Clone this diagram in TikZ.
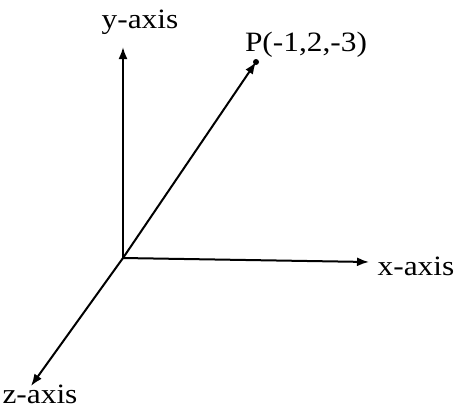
\documentclass[tikz,border=0pt]{standalone}
\usepackage{fontspec}
\setmainfont{Liberation Serif}[FakeStretch=1.12]
\usetikzlibrary{arrows.meta}
\begin{document}
\begin{tikzpicture}[x=1pt,y=1pt,
  axis/.style={line width=2pt,-{Latex[length=12pt,width=9pt]}},
  lbl/.style={font=\fontsize{28}{30}\selectfont,inner sep=0pt}]
\useasboundingbox (0,0) rectangle (458,-408);
\coordinate (O) at (123,-258);
\coordinate (Y) at (123,-47);
\coordinate (X) at (369,-262);
\coordinate (Z) at (31,-386);
\coordinate (P) at (256,-62);
\draw[axis] (O) -- (Y);
\draw[axis] (O) -- (X);
\draw[axis] (O) -- (Z);
\draw[axis] (O) -- (P);
\fill (P) circle (3pt);
\node[lbl] (ylab) at (140,-22) {y-axis};
\node[lbl] (xlab) at (416,-266) {x-axis};
\node[lbl,anchor=base] (zlab) at (40,-403) {z-axis};
\node[lbl] (plab) at (306,-45) {P(-1,2,-3)};
\end{tikzpicture}
\end{document}
